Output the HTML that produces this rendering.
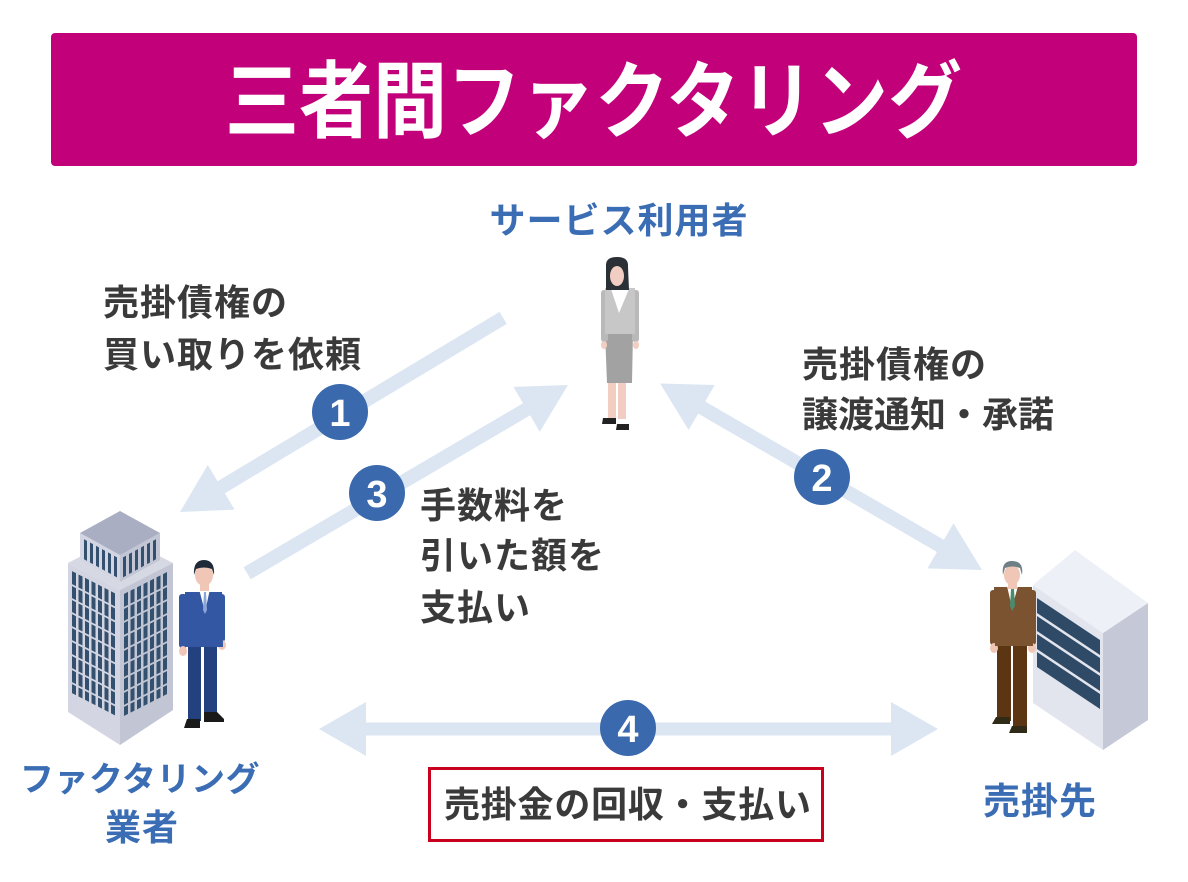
<!DOCTYPE html>
<html><head><meta charset="utf-8"><style>
html,body{margin:0;padding:0;background:#fff;}
svg{display:block;}
text{font-family:"Liberation Sans","Noto Sans CJK JP",sans-serif;font-weight:700;}
.dk{fill:#3a3a3a;font-size:36px;letter-spacing:1px;}
.bl{fill:#3b6db4;}
.num{font-family:"Liberation Sans",sans-serif;fill:#fff;font-size:38px;font-weight:700;}
</style></head><body>
<svg width="1188" height="882" viewBox="0 0 1188 882" xmlns="http://www.w3.org/2000/svg">
<rect x="0" y="0" width="1188" height="882" fill="#fff"/>
<!-- header -->
<rect x="51" y="33" width="1086" height="133" rx="4" fill="#c2007a"/>
<text x="225" y="131" font-size="84" fill="#fff" textLength="737" lengthAdjust="spacingAndGlyphs">三者間ファクタリング</text>

<!-- arrows -->
<g fill="#dbe6f2">
  <g transform="translate(180,512) rotate(149)">
    <rect x="-377" y="-7" width="332" height="14"/>
    <polygon points="0,0 -48,-26 -48,26"/>
  </g>
  <g transform="translate(568,385) rotate(-30.4)">
    <rect x="-372" y="-7" width="327" height="14"/>
    <polygon points="0,0 -48,-26 -48,26"/>
  </g>
  <g transform="translate(982,570) rotate(30.1)">
    <rect x="-326" y="-7" width="281" height="14"/>
    <polygon points="0,0 -48,-26 -48,26"/>
    <polygon points="-372,0 -324,-26 -324,26"/>
  </g>
  <g transform="translate(938,729)">
    <rect x="-574" y="-6.5" width="529" height="13"/>
    <polygon points="0,0 -47,-27 -47,27"/>
    <polygon points="-619,0 -572,-27 -572,27"/>
  </g>
</g>

<!-- number circles -->
<g fill="#3b69ae">
  <circle cx="340" cy="412" r="28"/>
  <circle cx="822" cy="477" r="28"/>
  <circle cx="377" cy="493" r="28"/>
  <circle cx="628" cy="728" r="28"/>
</g>
<text class="num" x="340" y="426" text-anchor="middle">1</text>
<text class="num" x="822" y="491" text-anchor="middle">2</text>
<text class="num" x="377" y="507" text-anchor="middle">3</text>
<text class="num" x="628" y="742" text-anchor="middle">4</text>

<!-- labels -->
<text class="bl" x="619" y="233" font-size="36" letter-spacing="1" text-anchor="middle">サービス利用者</text>
<text class="dk" x="103" y="315">売掛債権の</text>
<text class="dk" x="103" y="367">買い取りを依頼</text>
<text class="dk" x="802" y="377">売掛債権の</text>
<text class="dk" x="802" y="427" textLength="253" lengthAdjust="spacing">譲渡通知・承諾</text>
<text class="dk" x="420" y="518">手数料を</text>
<text class="dk" x="420" y="568">引いた額を</text>
<text class="dk" x="420" y="620">支払い</text>
<text class="bl" x="140" y="791" font-size="34" letter-spacing="0.5" text-anchor="middle">ファクタリング</text>
<text class="bl" x="142" y="840" font-size="36" letter-spacing="1" text-anchor="middle">業者</text>
<text class="bl" x="1040" y="814" font-size="37" letter-spacing="1" text-anchor="middle">売掛先</text>

<!-- bottom box -->
<rect x="429.5" y="768.5" width="393" height="72" fill="#fff" stroke="#c8001e" stroke-width="3"/>
<text class="dk" x="444" y="817" textLength="368" lengthAdjust="spacing">売掛金の回収・支払い</text>

<!-- building -->
<g>
  <polygon points="68,563 120,536 173,563 120,590" fill="#d6d8e3"/>
  <polygon points="68,563 120,590 120,745 68,712" fill="#d3d6e2"/>
  <polygon points="120,590 173,563 173,710 120,745" fill="#c2c6d4"/>
  <g transform="translate(68,563) skewY(27.4)" fill="#34506f">
    <rect x="4" y="6" width="4" height="122"/><rect x="10.5" y="6" width="4" height="122"/>
    <rect x="17" y="6" width="4" height="122"/><rect x="23.5" y="6" width="4" height="122"/>
    <rect x="30" y="6" width="4" height="122"/><rect x="36.5" y="6" width="4" height="122"/>
    <rect x="43" y="6" width="4" height="122"/>
    <g fill="#d3d6e2">
      <rect x="0" y="19" width="52" height="2"/><rect x="0" y="33" width="52" height="2"/>
      <rect x="0" y="47" width="52" height="2"/><rect x="0" y="61" width="52" height="2"/>
      <rect x="0" y="75" width="52" height="2"/><rect x="0" y="89" width="52" height="2"/>
      <rect x="0" y="103" width="52" height="2"/><rect x="0" y="117" width="52" height="2"/>
    </g>
  </g>
  <g transform="translate(120,590) skewY(-27)" fill="#34506f">
    <rect x="4" y="6" width="4" height="122"/><rect x="10.5" y="6" width="4" height="122"/>
    <rect x="17" y="6" width="4" height="122"/><rect x="23.5" y="6" width="4" height="122"/>
    <rect x="30" y="6" width="4" height="122"/><rect x="36.5" y="6" width="4" height="122"/>
    <rect x="43" y="6" width="4" height="122"/>
    <g fill="#c2c6d4">
      <rect x="0" y="19" width="53" height="2"/><rect x="0" y="33" width="53" height="2"/>
      <rect x="0" y="47" width="53" height="2"/><rect x="0" y="61" width="53" height="2"/>
      <rect x="0" y="75" width="53" height="2"/><rect x="0" y="89" width="53" height="2"/>
      <rect x="0" y="103" width="53" height="2"/><rect x="0" y="117" width="53" height="2"/>
    </g>
  </g>
  <polygon points="80,533 120,555 120,582 80,560" fill="#d3d6e2"/>
  <polygon points="120,555 160,533 160,560 120,582" fill="#c2c6d4"/>
  <polygon points="80,533 120,511 160,533 120,555" fill="#a9aec2"/>
  <g transform="translate(80,533) skewY(28.8)" fill="#34506f">
    <rect x="4" y="4" width="3" height="20"/><rect x="10" y="4" width="3" height="20"/>
    <rect x="16" y="4" width="3" height="20"/><rect x="22" y="4" width="3" height="20"/>
    <rect x="28" y="4" width="3" height="20"/><rect x="34" y="4" width="3" height="20"/>
  </g>
  <g transform="translate(120,555) skewY(-28.8)" fill="#34506f">
    <rect x="3" y="4" width="3" height="20"/><rect x="9" y="4" width="3" height="20"/>
    <rect x="15" y="4" width="3" height="20"/><rect x="21" y="4" width="3" height="20"/>
    <rect x="27" y="4" width="3" height="20"/><rect x="33" y="4" width="3" height="20"/>
  </g>
</g>

<!-- blue man -->
<g>
  <rect x="188" y="643" width="13" height="78" fill="#24417f"/>
  <rect x="204" y="643" width="13" height="71" fill="#24417f"/>
  <path d="M187,719 h13 v9 h-16 z" fill="#1a1a1a"/>
  <path d="M204,712 h13 l7,7 v3 h-20 z" fill="#1a1a1a"/>
  <rect x="179" y="594" width="8" height="54" rx="3" fill="#3457a4"/>
  <rect x="217" y="594" width="8" height="48" rx="3" fill="#3457a4"/>
  <ellipse cx="183" cy="651" rx="4" ry="5" fill="#f0c6b6"/>
  <ellipse cx="222" cy="645" rx="4" ry="5" fill="#f0c6b6"/>
  <path d="M185,592 L222,592 L223,647 L185,647 Z" fill="#3457a4"/>
  <path d="M199,589 L210,589 L205,612 Z" fill="#fff"/>
  <path d="M204,592 L206,592 L207,610 L205,614 L203,610 Z" fill="#8aa6d8"/>
  <rect x="200" y="583" width="9" height="8" fill="#f0c6b6"/>
  <ellipse cx="204" cy="575" rx="9" ry="11" fill="#f0c6b6"/>
  <path d="M194,575 Q193,560 204,560 Q215,560 214,575 L212,569 Q204,566 196,569 Z" fill="#1f2a38"/>
</g>

<!-- woman -->
<g>
  <rect x="608" y="381" width="8" height="38" fill="#f2cdc2"/>
  <rect x="618" y="381" width="8" height="38" fill="#f2cdc2"/>
  <path d="M603,418 h13 v6 h-14 z" fill="#222"/>
  <path d="M617,424 h12 v6 h-13 z" fill="#222"/>
  <path d="M605,332 L633,332 L632,383 L607,383 Z" fill="#a2a2a2"/>
  <rect x="601" y="290" width="7" height="52" rx="3" fill="#b9b9b9"/>
  <rect x="632" y="290" width="7" height="52" rx="3" fill="#b9b9b9"/>
  <ellipse cx="604" cy="345" rx="3" ry="4" fill="#f2cdc2"/>
  <ellipse cx="636" cy="345" rx="3" ry="4" fill="#f2cdc2"/>
  <path d="M605,288 L635,288 L635,334 L605,334 Z" fill="#c7c7c7"/>
  <path d="M611,289 L629,289 L619,313 Z" fill="#fff"/>
  <path d="M606,265 Q606,257 617,257 Q629,257 628,267 L629,290 L606,290 Z" fill="#2b3036"/>
  <ellipse cx="617" cy="276" rx="7" ry="10" fill="#f2cdc2"/>
  <path d="M609,272 Q611,260 618,261 Q626,261 626,272 L623,266 Q616,263 612,267 Z" fill="#2b3036"/>
</g>

<!-- cabinet -->
<g>
  <polygon points="1033,585 1103,633 1103,750 1033,703" fill="#e3e5ee"/>
  <polygon points="1103,633 1148,603 1148,720 1103,750" fill="#c5c8d7"/>
  <polygon points="1033,585 1075,550 1148,603 1103,633" fill="#eef0f7"/>
  <g transform="translate(1037,598) skewY(33.7)" fill="#2e4a66">
    <rect x="0" y="0" width="63" height="15"/>
    <rect x="0" y="18" width="63" height="15"/>
    <rect x="0" y="36" width="63" height="15"/>
    <rect x="0" y="54" width="63" height="15"/>
  </g>
</g>

<!-- brown man -->
<g>
  <rect x="997" y="643" width="14" height="78" fill="#5c3613"/>
  <rect x="1013" y="643" width="14" height="86" fill="#5c3613"/>
  <path d="M996,717 h14 v7 h-18 z" fill="#2f2b17"/>
  <path d="M1012,726 h15 v7 h-18 z" fill="#2f2b17"/>
  <rect x="990" y="590" width="8" height="55" rx="3" fill="#7b5331"/>
  <rect x="1028" y="590" width="8" height="55" rx="3" fill="#7b5331"/>
  <ellipse cx="994" cy="648" rx="4" ry="5" fill="#f0c6b6"/>
  <ellipse cx="1032" cy="648" rx="4" ry="5" fill="#f0c6b6"/>
  <path d="M994,587 L1032,587 L1033,646 L995,646 Z" fill="#7b5331"/>
  <path d="M1007,586 L1018,586 L1012,608 Z" fill="#fff"/>
  <path d="M1011,589 L1014,589 L1015,606 L1012,611 L1010,606 Z" fill="#4a8a6e"/>
  <rect x="1008" y="583" width="9" height="6" fill="#f0c6b6"/>
  <ellipse cx="1012" cy="575" rx="8" ry="10" fill="#f0c6b6"/>
  <path d="M1003,575 Q1001,561 1012,561 Q1024,561 1022,575 L1020,568 Q1012,565 1005,568 Z" fill="#6e7f85"/>
</g>
</svg>
</body></html>
